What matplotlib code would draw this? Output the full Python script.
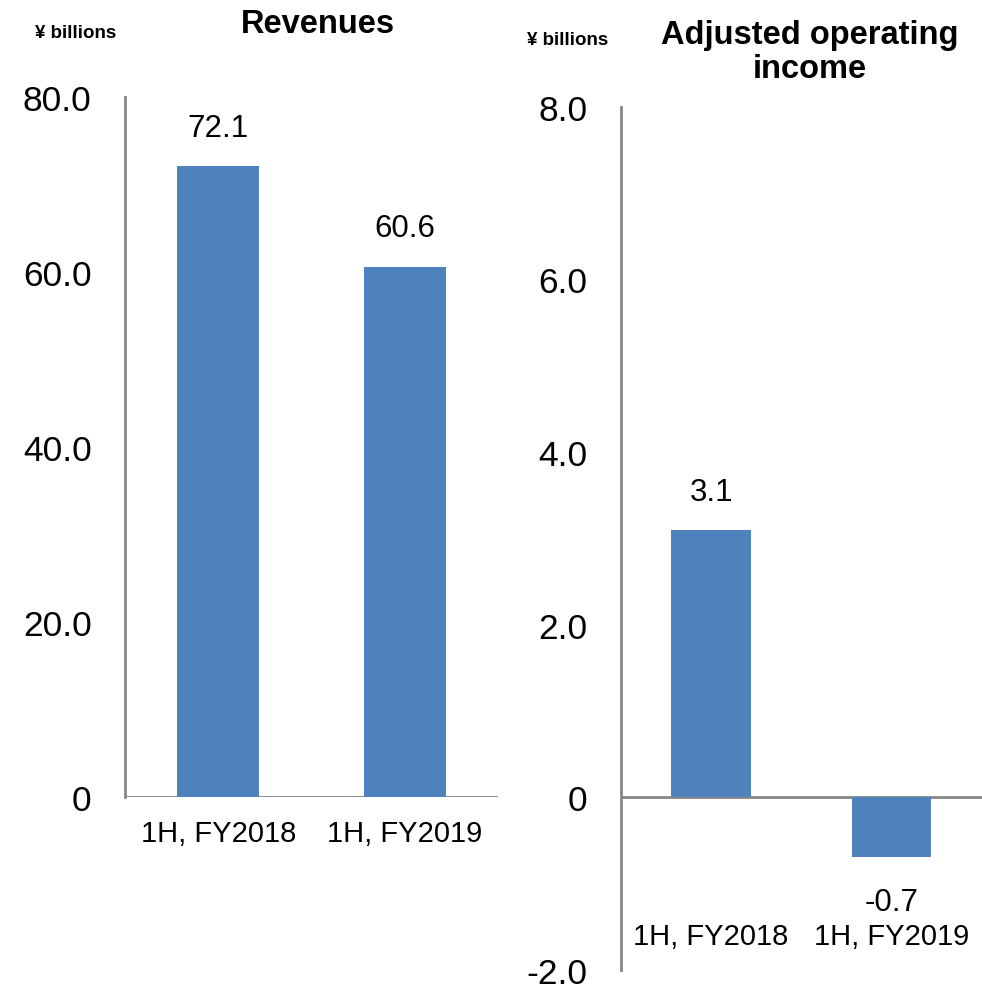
import matplotlib
matplotlib.use("Agg")
import matplotlib.pyplot as plt

plt.rcParams["font.family"] = ["Liberation Sans", "DejaVu Sans"]

categories = ["1H, FY2018", "1H, FY2019"]
revenues = [72.1, 60.6]
adj_operating_income = [3.1, -0.7]
revenue_ticks = [0, 20, 40, 60, 80]
revenue_tick_labels = ["0", "20.0", "40.0", "60.0", "80.0"]
income_ticks = [-2, 0, 2, 4, 6, 8]
income_tick_labels = ["-2.0", "0", "2.0", "4.0", "6.0", "8.0"]

BAR = "#4F81BD"
AXIS = "#868686"

fig = plt.figure(figsize=(9.82, 9.87), dpi=100)


def style_axes(ax):
    for side in ("top", "right", "bottom"):
        ax.spines[side].set_visible(False)
    ax.spines["left"].set_color(AXIS)
    ax.spines["left"].set_linewidth(2)
    ax.tick_params(axis="y", length=0, pad=24, labelsize=25.5)
    ax.tick_params(axis="x", length=0, labelbottom=False)
    ax.axhline(0, color=AXIS, linewidth=2, zorder=1)
    ax.set_xlim(-0.5, 1.5)


# Revenues
ax1 = fig.add_axes([0.1273, 0.1915, 0.3798, 0.7092])
x = range(len(categories))
ax1.bar(x, revenues, width=0.44, color=BAR, zorder=2)
ax1.set_ylim(0, 80)
ax1.set_yticks(revenue_ticks, revenue_tick_labels)
style_axes(ax1)
for xi, v in zip(x, revenues):
    ax1.annotate(f"{v:.1f}", (xi, v), xytext=(0, 17), textcoords="offset points",
                 ha="center", va="bottom", fontsize=22.5)
for xi, c in zip(x, categories):
    ax1.annotate(c, (xi, 0), xytext=(0, -26), textcoords="offset points",
                 ha="center", va="center", fontsize=21)
fig.text(0.077, 0.966, "¥ billions", ha="center", va="center",
         fontsize=13.5, fontweight="bold")
fig.text(0.3235, 0.975, "Revenues", ha="center", va="center",
         fontsize=23.5, fontweight="bold")

# Adjusted operating income
ax2 = fig.add_axes([0.6324, 0.0167, 0.3671, 0.8739])
ax2.bar(x, adj_operating_income, width=0.44, color=BAR, zorder=2)
ax2.set_ylim(-2, 8)
ax2.set_yticks(income_ticks, income_tick_labels)
style_axes(ax2)
for xi, v in zip(x, adj_operating_income):
    if v >= 0:
        ax2.annotate(f"{v:.1f}", (xi, v), xytext=(0, 16), textcoords="offset points",
                     ha="center", va="bottom", fontsize=22.5)
    else:
        ax2.annotate(f"{v:.1f}", (xi, v), xytext=(0, -21), textcoords="offset points",
                     ha="center", va="top", fontsize=22.5)
for xi, c in zip(x, categories):
    ax2.text(xi, -1.61, c, ha="center", va="center", fontsize=21)
fig.text(0.5785, 0.959, "¥ billions", ha="center", va="center",
         fontsize=13.5, fontweight="bold")
fig.text(0.8245, 0.947, "Adjusted operating\nincome", ha="center", va="center",
         fontsize=23.5, fontweight="bold", linespacing=1.12)

fig.savefig("out.png", dpi=100)
